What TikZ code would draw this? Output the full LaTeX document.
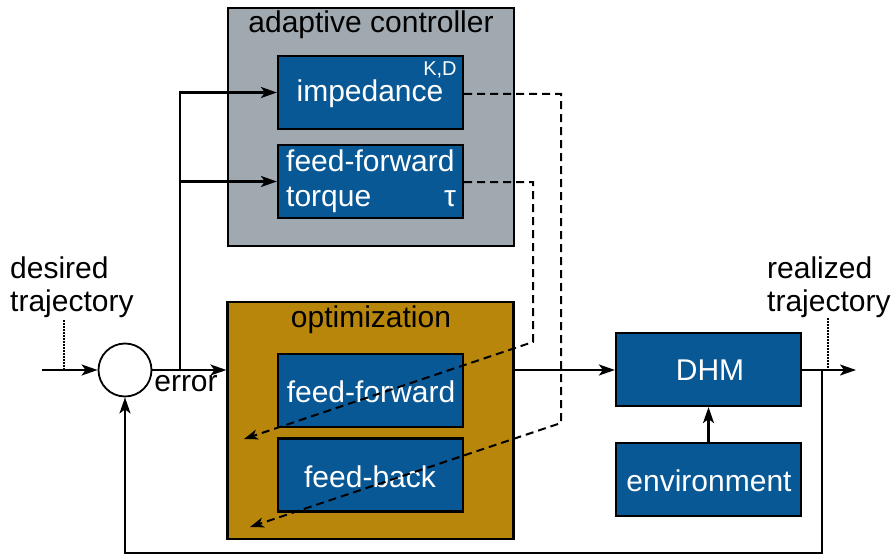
\documentclass[tikz,border=0pt]{standalone}
\usepackage{fontspec}
\setmainfont{Liberation Sans}
\usetikzlibrary{arrows.meta}
\definecolor{boxblue}{RGB}{8,88,150}
\definecolor{ctrlgray}{RGB}{160,169,176}
\definecolor{optgold}{RGB}{184,134,11}
\begin{document}
\begin{tikzpicture}[x=1pt,y=-1pt,
  txt/.style={font=\fontsize{30}{34}\selectfont, inner sep=0pt},
  wtxt/.style={txt, text=white},
  bluebox/.style={draw=black, line width=2.2pt, fill=boxblue, minimum width=185pt, minimum height=73pt, inner sep=0pt},
  bigbox/.style={draw=black, line width=2.2pt, minimum width=286pt, minimum height=238pt, inner sep=0pt},
  conn/.style={line width=2.2pt, -{Stealth[length=16pt,width=11pt,inset=4pt]}},
  dconn/.style={line width=2pt, dash pattern=on 8pt off 5pt, -{Stealth[length=14pt,width=10pt,inset=4pt]}},
  dotl/.style={line width=1.8pt, dash pattern=on 1.5pt off 1.5pt}
]
\useasboundingbox (0,0) rectangle (893,556);
\fill[white] (0,0) rectangle (893,556);

% big boxes
\node[bigbox, fill=ctrlgray] (ctrl) at (371,127) {};
\node[bigbox, fill=optgold, minimum height=237pt] (opt) at (370.5,420.5) {};
\node[txt] (ctrlt) at (371,25) {adaptive controller};
\node[txt] (optt) at (371,320) {optimization};

% inner boxes
\node[bluebox] (imp) at (370.5,92.5) {};
\node[wtxt] (impt) at (370,94) {impedance};
\node[wtxt, font=\fontsize{20}{24}\selectfont] (kd) at (440,70) {K,D};

\node[bluebox] (tor) at (370.5,181.5) {};
\node[wtxt, anchor=west] (tort1) at (286,161) {feed-forward};
\node[wtxt, anchor=west] (tort2) at (286,200) {torque};
\node[wtxt] (tau) at (450,199) {τ};

\node[bluebox] (ff) at (370.5,390.5) {};
\node[wtxt] (fft) at (371,392) {feed-forward};
\node[bluebox] (fb) at (370.5,475) {};
\node[wtxt] (fbt) at (370,477) {feed-back};

\node[bluebox] (dhm) at (708.5,369.5) {};
\node[wtxt] (dhmt) at (710,370) {DHM};
\node[bluebox] (env) at (708.5,479.5) {};
\node[wtxt] (envt) at (709,481) {environment};

% summing junction
\node[draw=black, line width=1.8pt, circle, minimum size=53pt, inner sep=0pt, fill=white] (sum) at (125,370) {};

% texts
\node[txt, anchor=west] (des1) at (10,268) {desired};
\node[txt, anchor=west] (des2) at (10,304) {trajectory};
\node[txt, anchor=west] (rea1) at (767,268) {realized};
\node[txt, anchor=west] (rea2) at (767,304) {trajectory};
\node[txt] (err) at (186,384) {error};

% coordinates
\coordinate (in) at (42,370);
\coordinate (br) at (180,370);
\coordinate (out) at (856,370);
\coordinate (fbk) at (822,370);
\coordinate (fbl) at (822,553);

% connectors
\draw[conn] (in) -- (sum);
\draw[conn] (sum) -- (sum -| opt.west);
\draw[conn] (br) |- (imp.west);
\draw[conn] (br) |- (tor.west);
\draw[conn] (opt.east |- sum) -- (dhm.west |- sum);
\draw[conn] (env.north) -- (dhm.south);
\draw[conn] (dhm.east |- out) -- (out);
\draw[conn] (fbk) -- (fbl) -| (sum.south);

% dotted pointers
\draw[dotl] (64,320) -- (64,370);
\draw[dotl] (828,318) -- (828,370);

% dashed adaptation lines
\coordinate (d1a) at (561,94);
\coordinate (d1b) at (561,423);
\coordinate (d1c) at (250,527);
\coordinate (d2a) at (533,182);
\coordinate (d2b) at (533,342);
\coordinate (d2c) at (244,439);
\draw[dconn] (imp.east |- d1a) -- (d1a) -- (d1b) -- (d1c);
\draw[dconn] (tor.east |- d2a) -- (d2a) -- (d2b) -- (d2c);
\end{tikzpicture}
\end{document}
